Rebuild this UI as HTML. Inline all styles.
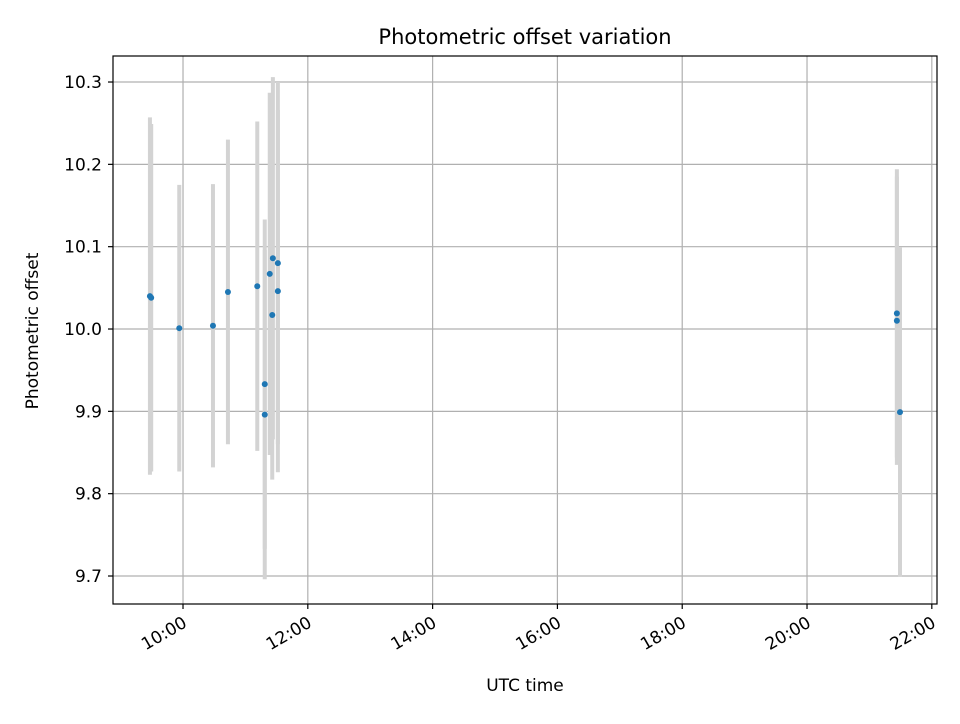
<!DOCTYPE html>
<html><head><meta charset="utf-8"><style>
body{margin:0;background:#fff;font-family:"DejaVu Sans","Liberation Sans",sans-serif}
</style></head><body>
<svg id="chart" width="960" height="720" xmlns="http://www.w3.org/2000/svg" font-family="DejaVu Sans, Liberation Sans, sans-serif"></svg>
<script>
const times=[9.47,9.49,9.94,10.48,10.72,11.19,11.31,11.31,11.39,11.44,11.43,11.52,11.52,21.44,21.44,21.49];
const values=[10.040,10.038,10.001,10.004,10.045,10.052,9.933,9.896,10.067,10.086,10.017,10.080,10.046,10.019,10.010,9.899];
const errors=[0.217,0.211,0.174,0.172,0.185,0.200,0.200,0.200,0.220,0.220,0.200,0.220,0.220,0.175,0.175,0.200];
const xTicks=[10,12,14,16,18,20,22];
const xTickLabels=["10:00","12:00","14:00","16:00","18:00","20:00","22:00"];
const yTicks=[9.7,9.8,9.9,10.0,10.1,10.2,10.3];
const yTickLabels=["9.7","9.8","9.9","10.0","10.1","10.2","10.3"];

const L=113,R=937,T=56,B=604;
const xMin=8.878,xMax=22.083,yMin=9.666,yMax=10.3316;
const sx=t=>L+(t-xMin)/(xMax-xMin)*(R-L);
const sy=v=>B-(v-yMin)/(yMax-yMin)*(B-T);
const svg=document.getElementById('chart');
const NS='http://www.w3.org/2000/svg';
function mk(tag,attrs,parent){const e=document.createElementNS(NS,tag);for(const k in attrs)e.setAttribute(k,attrs[k]);(parent||svg).appendChild(e);return e;}
const defs=mk('defs',{});const cp=mk('clipPath',{id:'c'},defs);mk('rect',{x:L,y:T,width:R-L,height:B-T},cp);
const grid=mk('g',{});


xTicks.forEach((t,i)=>{const x=sx(t);
 mk('line',{x1:x,x2:x,y1:T,y2:B,stroke:'#b0b0b0','stroke-width':1.2},grid);
 mk('line',{x1:x,x2:x,y1:B,y2:B+5,stroke:'#000','stroke-width':1.2});
 const ax=x+5,ay=B+22;
 const tx=mk('text',{x:ax,y:ay,'font-size':17,'text-anchor':'end',transform:`rotate(-30 ${ax} ${ay})`});
 
 
 tx.textContent=xTickLabels[i];});
yTicks.forEach((v,i)=>{const y=sy(v);
 mk('line',{x1:L,x2:R,y1:y,y2:y,stroke:'#b0b0b0','stroke-width':1.2},grid);
 mk('line',{x1:L-5,x2:L,y1:y,y2:y,stroke:'#000','stroke-width':1.2});
 const tx=mk('text',{x:L-11,y:y+6,'font-size':17,'text-anchor':'end'});
 
 
 tx.textContent=yTickLabels[i];});
const marks=mk('g',{'clip-path':'url(#c)'});
times.forEach((t,i)=>{const x=sx(t);
 const eb=mk('line',{x1:x,x2:x,y1:sy(values[i]+errors[i]),y2:sy(values[i]-errors[i]),stroke:'#d3d3d3','stroke-width':4},marks);
 
 });
times.forEach((t,i)=>{
 const p=mk('circle',{cx:sx(t),cy:sy(values[i]),r:3,fill:'#1f77b4'},marks);
 
 });
const fr=mk('rect',{x:L,y:T,width:R-L,height:B-T,fill:'none',stroke:'#000','stroke-width':1.2});


const ti=mk('text',{x:(L+R)/2,y:44,'font-size':21,'text-anchor':'middle'});


ti.textContent='Photometric offset variation';
const xl=mk('text',{x:(L+R)/2,y:691,'font-size':17,'text-anchor':'middle'});


xl.textContent='UTC time';
const yl=mk('text',{x:38,y:331,'font-size':17,'text-anchor':'middle',transform:'rotate(-90 38 331)'});


yl.textContent='Photometric offset';
</script>
</body></html>
